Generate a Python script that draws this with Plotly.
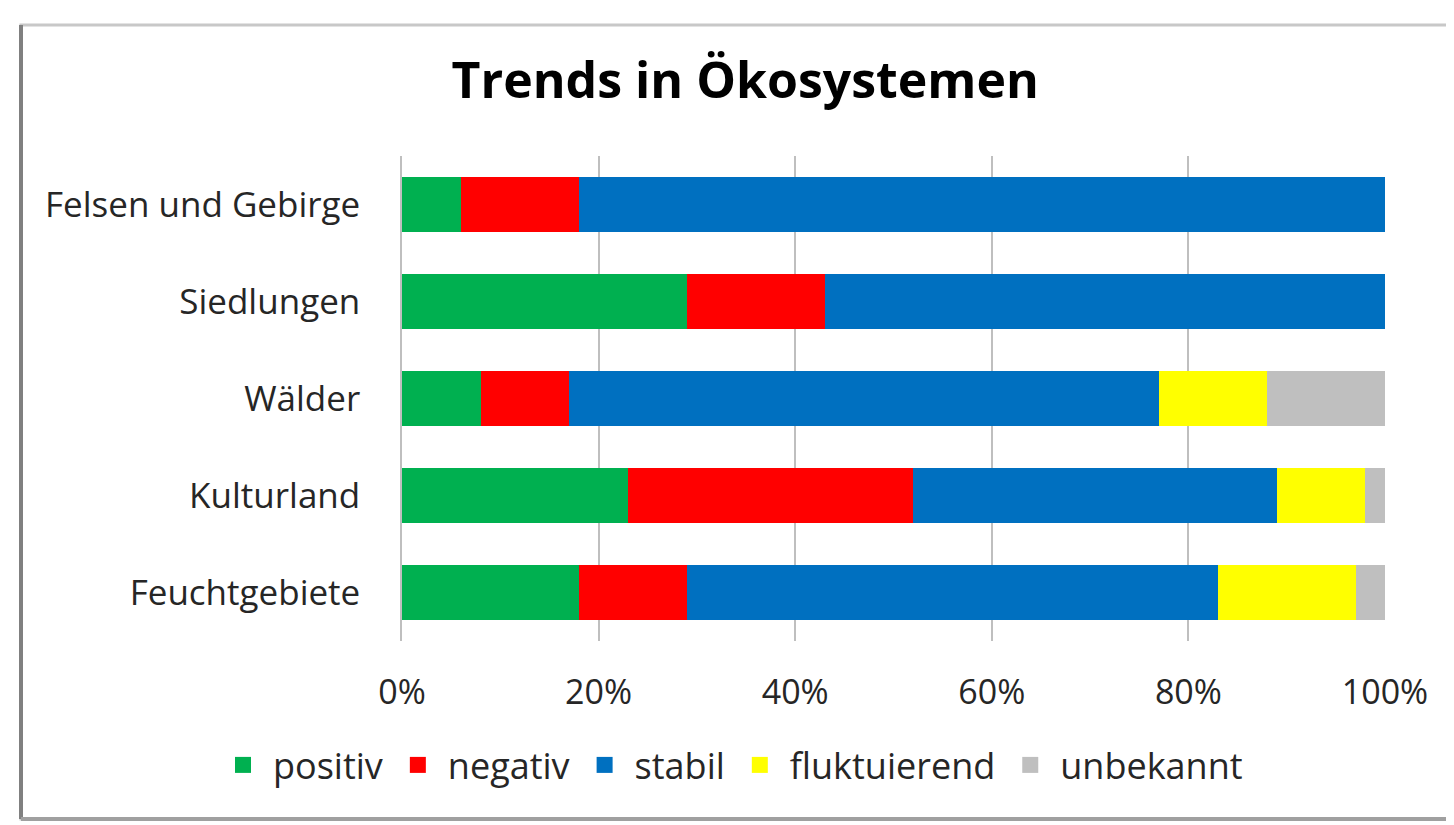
import plotly.graph_objects as go

# Ökosystem-Trends, Anteile in Prozent
kategorien = ["Felsen und Gebirge", "Siedlungen", "Wälder", "Kulturland", "Feuchtgebiete"]

positiv = [6, 29, 8, 23, 18]
negativ = [12, 14, 9, 29, 11]
stabil = [82, 57, 60, 37, 54]
fluktuierend = [0, 0, 11, 9, 14]
unbekannt = [0, 0, 12, 2, 3]

serien = ["positiv", "negativ", "stabil", "fluktuierend", "unbekannt"]
werte = [positiv, negativ, stabil, fluktuierend, unbekannt]
farben = ["#00B050", "#FF0000", "#0070C0", "#FFFF00", "#BFBFBF"]

tick_werte = [0, 20, 40, 60, 80, 100]
tick_text = ["0%", "20%", "40%", "60%", "80%", "100%"]

W, H = 1454, 825
L, R, T, B = 394, 1377, 148, 633  # plot area in px


def px_x(p):
    return (p - L) / (R - L)


def px_y(p):
    return (B - p) / (B - T)


fig = go.Figure()
for name, vals, col in zip(serien, werte, farben):
    fig.add_trace(go.Bar(y=kategorien, x=vals, name=name, orientation="h",
                         marker=dict(color=col, line=dict(width=0)),
                         showlegend=False))

# Legendeneinträge mit größeren Quadraten (wie Excel)
for name, col in zip(serien, farben):
    fig.add_trace(go.Scatter(x=[None], y=[None], mode="markers", name=name,
                             marker=dict(symbol="square", size=21, color=col)))

font = "Open Sans, Noto Sans, sans-serif"

fig.update_layout(
    width=W, height=H,
    barmode="stack", bargap=0.44,
    paper_bgcolor="white", plot_bgcolor="white",
    margin=dict(l=L, r=W - R, t=T, b=H - B, autoexpand=False),
    font=dict(family=font, size=35, color="#262626"),
    title=dict(text="<b>Trends in Ökosystemen</b>", x=0.507, xref="container",
               xanchor="center", y=1 - 72 / H, yanchor="middle",
               font=dict(family=font, size=50, color="black")),
    legend=dict(orientation="h", xref="paper", x=px_x(205), xanchor="left",
                y=px_y(757), yanchor="middle",
                font=dict(size=36), traceorder="normal", itemwidth=50),
    showlegend=True,
)

fig.update_xaxes(range=[0, 100], tickvals=tick_werte, ticktext=tick_text,
                 showgrid=True, gridcolor="#BFBFBF", gridwidth=1.5,
                 zeroline=False, ticks="", ticklabelstandoff=28,
                 tickfont=dict(size=34), tickangle=0, automargin=False)
fig.update_yaxes(categoryorder="array", categoryarray=kategorien,
                 autorange="reversed", showline=True, linecolor="#BFBFBF",
                 linewidth=1.5, ticks="", ticklabelstandoff=33,
                 tickfont=dict(size=35), showgrid=False, automargin=False)

# Rahmen um das Diagramm
fig.add_shape(type="rect", xref="paper", yref="paper",
              x0=px_x(13), x1=px_x(1450), y0=px_y(811), y1=px_y(17),
              line=dict(color="#C8C8C8", width=3), layer="below")
fig.add_shape(type="line", xref="paper", yref="paper",
              x0=px_x(13), x1=px_x(13), y0=px_y(811), y1=px_y(17),
              line=dict(color="#808080", width=4))
fig.add_shape(type="line", xref="paper", yref="paper",
              x0=px_x(13), x1=px_x(1450), y0=px_y(811), y1=px_y(811),
              line=dict(color="#A0A0A0", width=4))

fig.write_html("out.html")
